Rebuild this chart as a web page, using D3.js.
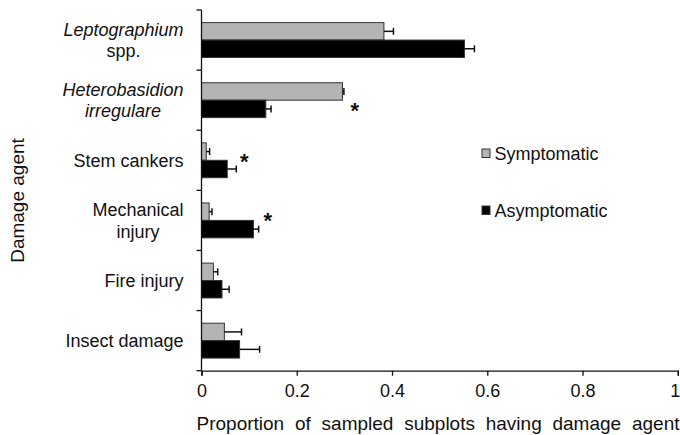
<!DOCTYPE html>
<html>
<head>
<meta charset="utf-8">
<script src="https://cdn.jsdelivr.net/npm/d3@7"></script>
<style>
  body { margin: 0; background: #fff; }
  text { font-family: "Liberation Sans", Arial, sans-serif; fill: #111; }
</style>
</head>
<body>
<div id="chart"></div>
<script>
// Données
const categories = ["Leptographium spp.", "Heterobasidion irregulare", "Stem cankers",
  "Mechanical injury", "Fire injury", "Insect damage"];
const labelLines = [["Leptographium", "spp."], ["Heterobasidion", "irregulare"], ["Stem cankers"],
  ["Mechanical", "injury"], ["Fire injury"], ["Insect damage"]];
const labelItalic = [[true, false], [true, true], [false], [false, false], [false], [false]];
const series = ["Symptomatic", "Asymptomatic"];
const symptomatic = [0.383, 0.296, 0.010, 0.016, 0.025, 0.048];
const symptomaticErr = [0.020, 0.003, 0.007, 0.006, 0.009, 0.036];
const asymptomatic = [0.552, 0.135, 0.054, 0.109, 0.043, 0.080];
const asymptomaticErr = [0.021, 0.011, 0.019, 0.011, 0.015, 0.042];
const xTicks = [0, 0.2, 0.4, 0.6, 0.8, 1];
// Astérisques de significativité (catégorie, valeur x, position dans la bande)
const signifCats = ["Heterobasidion irregulare", "Stem cankers", "Mechanical injury"];
const signifX = [0.322, 0.090, 0.139];
const signifBandPos = [0.70, 0.445, 0.39];

const width = 680, height = 435;
const colors = { Symptomatic: "#b4b4b4", Asymptomatic: "#000000" };

const svg = d3.select("#chart").append("svg")
  .attr("width", width)
  .attr("height", height);

const x = d3.scaleLinear().domain([0, 1]).range([201.5, 677.8]);
const y = d3.scaleBand().domain(categories).range([10, 370.7])
  .paddingInner(0.42).paddingOuter(0.21);
const ySub = d3.scaleBand().domain(series).range([0, y.bandwidth()]);

// Barres
const rows = categories.map((c, i) => ({
  cat: c,
  values: [
    { s: "Symptomatic", v: symptomatic[i], e: symptomaticErr[i] },
    { s: "Asymptomatic", v: asymptomatic[i], e: asymptomaticErr[i] }
  ]
}));

const groups = svg.append("g").selectAll("g")
  .data(rows)
  .enter()
  .append("g")
  .attr("transform", d => `translate(0,${y(d.cat)})`);

groups.selectAll("rect")
  .data(d => d.values)
  .enter()
  .append("rect")
  .attr("x", x(0))
  .attr("y", d => ySub(d.s))
  .attr("width", d => x(d.v) - x(0))
  .attr("height", ySub.bandwidth())
  .attr("fill", d => colors[d.s])
  .attr("stroke", "#333")
  .attr("stroke-width", 1);

// Barres d'erreur
const err = groups.selectAll("g.err")
  .data(d => d.values)
  .enter()
  .append("g")
  .attr("class", "err")
  .attr("stroke", "#111")
  .attr("stroke-width", 1.5);

err.append("line")
  .attr("x1", d => x(d.v))
  .attr("x2", d => x(d.v + d.e))
  .attr("y1", d => ySub(d.s) + ySub.bandwidth() / 2)
  .attr("y2", d => ySub(d.s) + ySub.bandwidth() / 2);

err.append("line")
  .attr("x1", d => x(d.v + d.e))
  .attr("x2", d => x(d.v + d.e))
  .attr("y1", d => ySub(d.s) + ySub.bandwidth() / 2 - 3.5)
  .attr("y2", d => ySub(d.s) + ySub.bandwidth() / 2 + 3.5);

// Axe X
const xAxis = svg.append("g")
  .attr("transform", `translate(0,${y.range()[1]})`)
  .call(d3.axisBottom(x).tickValues(xTicks).tickSize(5).tickPadding(9).tickFormat(d => String(d)));
xAxis.select(".domain").attr("stroke", "#111").attr("stroke-width", 1.3);
xAxis.selectAll(".tick line").attr("stroke", "#111").attr("stroke-width", 1.3);
xAxis.selectAll("text").attr("font-size", 18).attr("fill", "#111")
  .style("font-family", "'Liberation Sans', Arial, sans-serif");
// le dernier libellé "1" reste dans la fenêtre
xAxis.selectAll(".tick text").filter(d => d === 1)
  .attr("text-anchor", "end").attr("dx", 2);

// Axe Y : ligne et graduations entre catégories
const y0 = y.range()[0], step = y.step();
svg.append("line")
  .attr("x1", x(0)).attr("x2", x(0))
  .attr("y1", y0).attr("y2", y.range()[1])
  .attr("stroke", "#111").attr("stroke-width", 1.3);
svg.append("g").selectAll("line")
  .data(d3.range(categories.length + 1))
  .enter()
  .append("line")
  .attr("x1", x(0) - 5).attr("x2", x(0))
  .attr("y1", i => y0 + i * step)
  .attr("y2", i => y0 + i * step)
  .attr("stroke", "#111").attr("stroke-width", 1.3);

// Étiquettes des catégories (lignes centrées, bloc aligné à droite)
const labelRight = 183.5;
categories.forEach((c, i) => {
  const lines = labelLines[i];
  const cy = y(c) + y.bandwidth() / 2;
  const lineH = 21.5;
  const g = svg.append("g");
  const texts = lines.map((t, j) => g.append("text")
    .attr("font-size", 18)
    .attr("font-style", labelItalic[i][j] ? "italic" : "normal")
    .attr("y", cy + (j - (lines.length - 1) / 2) * lineH + 6.5)
    .text(t));
  const maxW = d3.max(texts, t => t.node().getComputedTextLength());
  texts.forEach(t => t.attr("text-anchor", "middle").attr("x", labelRight - maxW / 2));
});

// Astérisques
signifCats.forEach((c, i) => {
  svg.append("text")
    .attr("x", x(signifX[i]))
    .attr("y", y(c) + y.bandwidth() * signifBandPos[i] + 11)
    .attr("text-anchor", "middle")
    .attr("font-size", 22)
    .attr("font-weight", "bold")
    .text("*");
});

// Titres des axes
svg.append("text")
  .attr("x", 438)
  .attr("y", 429.5)
  .attr("text-anchor", "middle")
  .attr("font-size", 19)
  .attr("word-spacing", 5.5)
  .text("Proportion of sampled subplots having damage agent");

svg.append("text")
  .attr("transform", "translate(24,200.5) rotate(-90)")
  .attr("text-anchor", "middle")
  .attr("font-size", 19)
  .text("Damage agent");

// Légende
const legend = svg.append("g").selectAll("g")
  .data(series)
  .enter()
  .append("g")
  .attr("transform", (d, i) => `translate(482,${149 + i * 57})`);
legend.append("rect")
  .attr("width", 8).attr("height", 8.5)
  .attr("fill", d => colors[d])
  .attr("stroke", "#333").attr("stroke-width", 1);
legend.append("text")
  .attr("x", 12.5)
  .attr("y", 11)
  .attr("font-size", 18)
  .text(d => d);
</script>
</body>
</html>
